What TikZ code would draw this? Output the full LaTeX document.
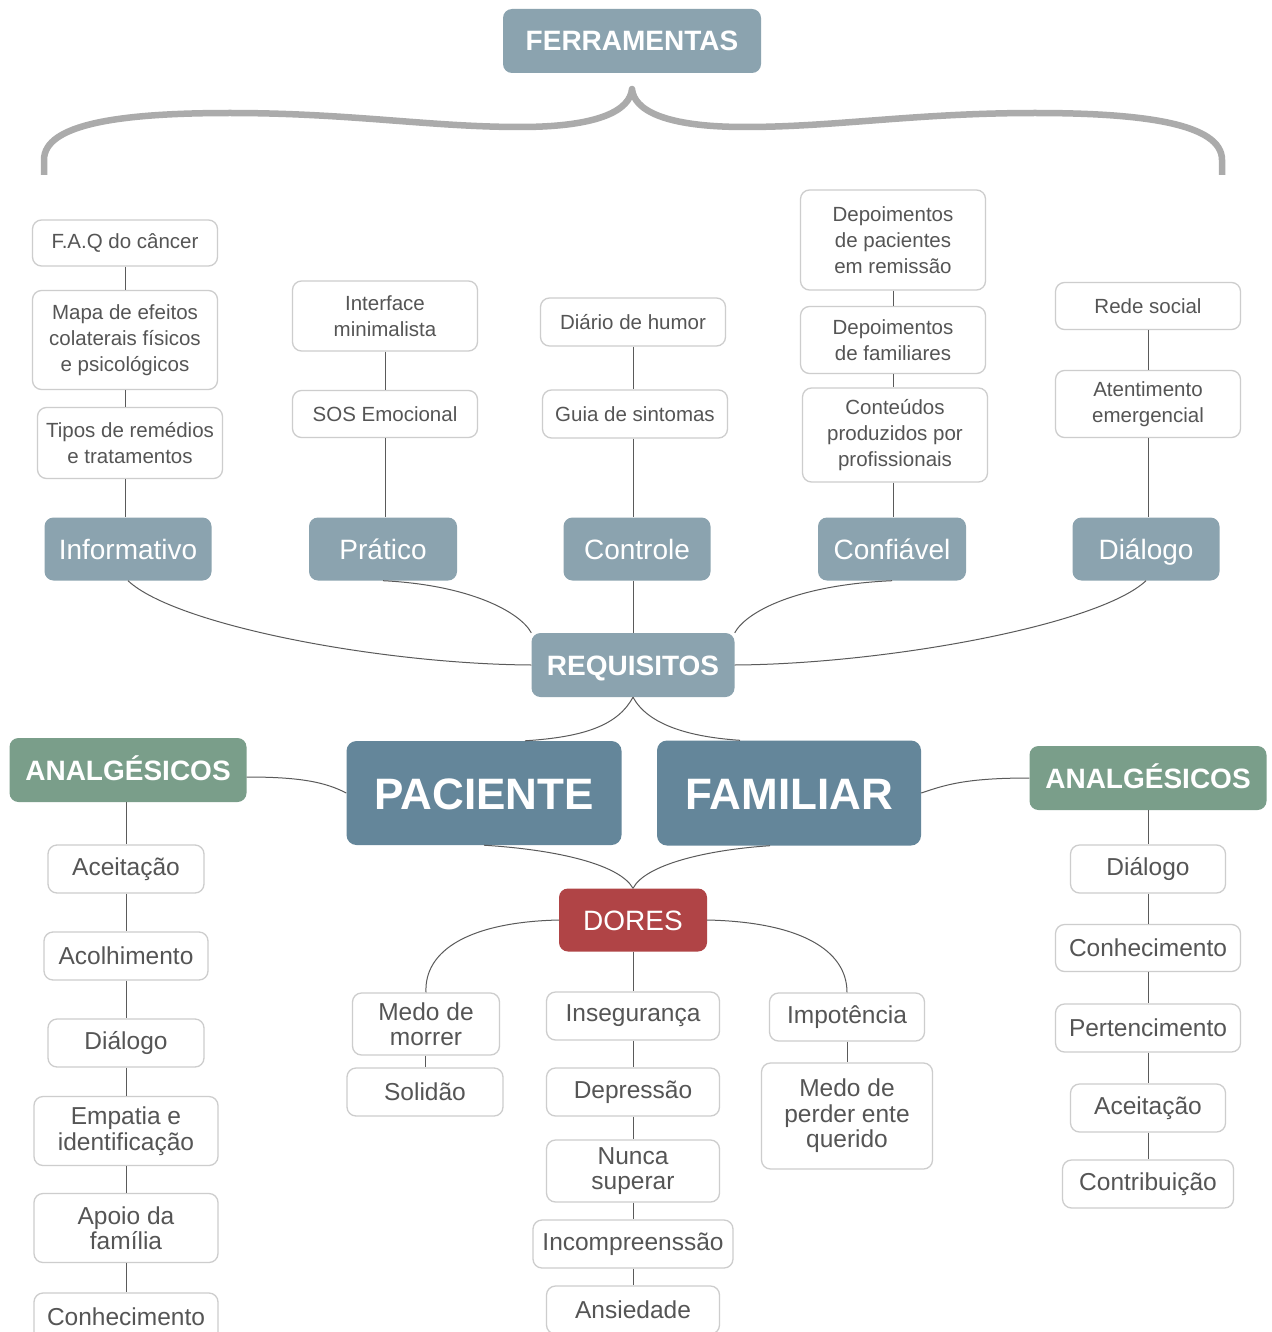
\documentclass[tikz,border=0pt]{standalone}
\usepackage{fontspec}
\setmainfont{Liberation Sans}
\definecolor{slate}{HTML}{8BA3AF}
\definecolor{deep}{HTML}{64869A}
\definecolor{sage}{HTML}{7A9E8A}
\definecolor{brick}{HTML}{B04446}
\definecolor{boxline}{HTML}{CDCDCD}
\definecolor{ink}{HTML}{555555}
\definecolor{wirecol}{HTML}{5A5A5A}
\definecolor{bracecol}{HTML}{ABABAB}
\begin{document}
\begin{tikzpicture}[x=1pt,y=-1pt,
  sz/.style 2 args={minimum width=#1pt, minimum height=#2pt},
  leaf/.style={draw=boxline, line width=1.3pt, fill=white, rounded corners=9pt,
    align=center, text=ink, inner sep=0pt, font=\fontsize{20.5}{26}\selectfont},
  leafb/.style={leaf, font=\fontsize{24.5}{25.5}\selectfont},
  cat/.style={fill=slate, rounded corners=9pt, text=white, inner sep=0pt,
    align=center, text height=20pt, text depth=0pt, font=\fontsize{28}{32}\selectfont},
  hub/.style={cat, font=\bfseries\fontsize{28}{32}\selectfont},
  big/.style={cat, fill=deep, rounded corners=10pt, text height=32pt,
    font=\bfseries\fontsize{44}{50}\selectfont},
  wire/.style={draw=wirecol, line width=1pt},
  vwire/.style={draw=wirecol, line width=1pt}]
\useasboundingbox (0,0) rectangle (1271,1332);
\clip (0,0) rectangle (1271,1332);
\fill[white] (0,0) rectangle (1271,1332);

% tools header and its brace
\node[hub, sz={258}{64}] (ferr) at (632,41) {FERRAMENTAS};
\draw[bracecol, line width=6.5pt, line join=round]
  (44,175) -- (44,160) .. controls (44,124) and (120,113) .. (230,113)
  .. controls (350,113) and (430,127) .. (520,127)
  .. controls (600,127) and (630,110) .. (632,89)
  .. controls (634,110) and (664,127) .. (745,127)
  .. controls (835,127) and (915,113) .. (1035,113)
  .. controls (1145,113) and (1222,124) .. (1222,160) -- (1222,175);

% tool leaves
\node[leaf, sz={185}{46}] (faq) at (125,243) {F.A.Q do câncer};
\node[leaf, sz={185}{99}] (mapa) at (125,340) {Mapa de efeitos\\colaterais físicos\\e psicológicos};
\node[leaf, sz={185}{71}] (tipos) at (130,443) {Tipos de remédios\\e tratamentos};
\node[leaf, sz={185}{70}] (interf) at (385,316) {Interface\\minimalista};
\node[leaf, sz={185}{47}] (sos) at (385,414) {SOS Emocional};
\node[leaf, sz={185}{48}] (diario) at (633,322) {Diário de humor};
\node[leaf, sz={185}{48}] (guia) at (635,414) {Guia de sintomas};
\node[leaf, sz={185}{100}] (dep1) at (893,240) {Depoimentos\\de pacientes\\em remissão};
\node[leaf, sz={185}{67}] (dep2) at (893,340) {Depoimentos\\de familiares};
\node[leaf, sz={185}{94}] (cont) at (895,435) {Conteúdos\\produzidos por\\profissionais};
\node[leaf, sz={185}{47}] (rede) at (1148,306) {Rede social};
\node[leaf, sz={185}{67}] (atend) at (1148,404) {Atentimento\\emergencial};

% requirement categories
\node[cat, sz={167}{63}] (info) at (128,549) {Informativo};
\node[cat, sz={148}{63}] (prat) at (383,549) {Prático};
\node[cat, sz={147}{63}] (ctrl) at (637,549) {Controle};
\node[cat, sz={148}{63}] (conf) at (892,549) {Confiável};
\node[cat, sz={147}{63}] (dial) at (1146,549) {Diálogo};

% hubs
\node[hub, sz={203}{64}] (req) at (633,665) {REQUISITOS};
\node[hub, fill=sage, sz={237}{64}] (analgL) at (128,770) {ANALGÉSICOS};
\node[hub, fill=sage, sz={237}{64}] (analgR) at (1148,778) {ANALGÉSICOS};
\node[big, sz={275}{104}] (pac) at (484,793) {PACIENTE};
\node[big, sz={264}{105}] (fam) at (789,793) {FAMILIAR};
\node[cat, fill=brick, sz={148}{63}] (dores) at (633,920) {DORES};

% pains
\node[leafb, sz={147}{62}] (morrer) at (426,1024) {Medo de\\morrer};
\node[leafb, sz={156}{48}] (solid) at (425,1092) {Solidão};
\node[leafb, sz={173}{48}] (inseg) at (633,1016) {Insegurança};
\node[leafb, sz={173}{48}] (depr) at (633,1092) {Depressão};
\node[leafb, sz={173}{62}] (nunca) at (633,1171) {Nunca\\superar};
\node[leafb, sz={200}{48}] (incomp) at (633,1244) {Incompreenssão};
\node[leafb, sz={173}{48}] (ansied) at (633,1310) {Ansiedade};
\node[leafb, sz={155}{48}] (impot) at (847,1017) {Impotência};
\node[leafb, sz={171}{106}] (perder) at (847,1116) {Medo de\\perder ente\\querido};

% relief for the patient
\node[leafb, sz={156}{48}] (aceitL) at (126,869) {Aceitação};
\node[leafb, sz={164}{48}] (acolh) at (126,956) {Acolhimento};
\node[leafb, sz={156}{48}] (dialL) at (126,1043) {Diálogo};
\node[leafb, sz={184}{69}] (empat) at (126,1131) {Empatia e\\identificação};
\node[leafb, sz={184}{69}] (apoio) at (126,1228) {Apoio da\\família};
\node[leafb, sz={184}{48}] (conhL) at (126,1317) {Conhecimento};

% relief for the family
\node[leafb, sz={155}{48}] (dialR) at (1148,869) {Diálogo};
\node[leafb, sz={185}{47}] (conhR) at (1148,948) {Conhecimento};
\node[leafb, sz={185}{48}] (pert) at (1148,1028) {Pertencimento};
\node[leafb, sz={155}{48}] (aceitR) at (1148,1108) {Aceitação};
\node[leafb, sz={171}{48}] (contr) at (1148,1184) {Contribuição};

% vertical chains
\draw[vwire] (faq.south) -- (faq.south |- mapa.north);
\draw[vwire] (mapa.south) -- (mapa.south |- tipos.north);
\draw[vwire] (mapa.south |- tipos.south) -- (mapa.south |- info.north);
\draw[vwire] (interf.south) -- (interf.south |- sos.north);
\draw[vwire] (interf.south |- sos.south) -- (interf.south |- prat.north);
\draw[vwire] (diario.south) -- (diario.south |- guia.north);
\draw[vwire] (diario.south |- guia.south) -- (diario.south |- ctrl.north);
\draw[vwire] (diario.south |- ctrl.south) -- (diario.south |- req.north);
\draw[vwire] (dep1.south) -- (dep1.south |- dep2.north);
\draw[vwire] (dep1.south |- dep2.south) -- (dep1.south |- cont.north);
\draw[vwire] (dep1.south |- cont.south) -- (dep1.south |- conf.north);
\draw[vwire] (rede.south) -- (rede.south |- atend.north);
\draw[vwire] (rede.south |- atend.south) -- (rede.south |- dial.north);

\draw[vwire] (dores.south) -- (dores.south |- inseg.north);
\draw[vwire] (inseg.south) -- (inseg.south |- depr.north);
\draw[vwire] (depr.south) -- (depr.south |- nunca.north);
\draw[vwire] (nunca.south) -- (nunca.south |- incomp.north);
\draw[vwire] (incomp.south) -- (incomp.south |- ansied.north);
\draw[vwire] (solid.north |- morrer.south) -- (solid.north);
\draw[vwire] (impot.south) -- (impot.south |- perder.north);

\draw[vwire] (aceitL.north |- analgL.south) -- (aceitL.north);
\draw[vwire] (aceitL.south) -- (aceitL.south |- acolh.north);
\draw[vwire] (acolh.south) -- (acolh.south |- dialL.north);
\draw[vwire] (dialL.south) -- (dialL.south |- empat.north);
\draw[vwire] (empat.south) -- (empat.south |- apoio.north);
\draw[vwire] (apoio.south) -- (apoio.south |- conhL.north);

\draw[vwire] (analgR.south) -- (analgR.south |- dialR.north);
\draw[vwire] (dialR.south) -- (dialR.south |- conhR.north);
\draw[vwire] (conhR.south) -- (conhR.south |- pert.north);
\draw[vwire] (pert.south) -- (pert.south |- aceitR.north);
\draw[vwire] (aceitR.south) -- (aceitR.south |- contr.north);

% curved links around the hubs
\draw[wire] (info.south) .. controls (175,625) and (380,664) .. (req.west);
\draw[wire] (prat.south) .. controls (470,585) and (520,612) .. (req.north west);
\draw[wire] (conf.south) .. controls (796,585) and (746,612) .. (req.north east);
\draw[wire] (dial.south) .. controls (1099,625) and (886,664) .. (req.east);

\draw[wire] (req.south) .. controls (618,725) and (585,737) .. ([xshift=41pt]pac.north);
\draw[wire] (req.south) .. controls (648,725) and (690,737) .. ([xshift=-49pt]fam.north);
\coordinate (aL) at ([yshift=-7pt]analgL.east);
\draw[wire] (aL) .. controls (300,777) and (325,782) .. (pac.west);
\draw[wire] (fam.east) .. controls (945,785) and (965,778) .. (analgR.west);

\draw[wire] (pac.south) .. controls (560,850) and (620,865) .. (dores.north);
\draw[wire] ([xshift=-19pt]fam.south) .. controls (705,850) and (645,865) .. (dores.north);
\draw[wire] (dores.west) .. controls (470,922) and (424,950) .. (morrer.north);
\draw[wire] (dores.east) .. controls (800,922) and (847,950) .. (impot.north);
\end{tikzpicture}
\end{document}
